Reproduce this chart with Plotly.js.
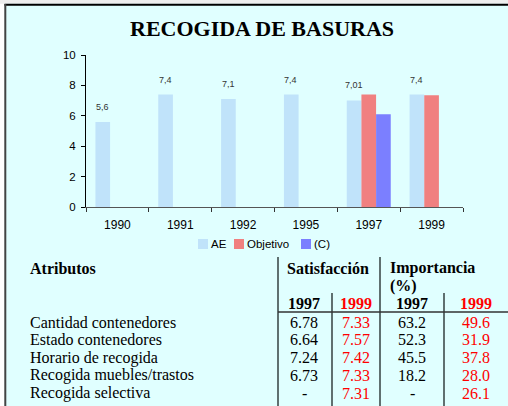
<!DOCTYPE html>
<html>
<head>
<meta charset="utf-8">
<script src="https://cdn.plot.ly/plotly-3.0.1.min.js"></script>
<style>
html,body{margin:0;padding:0;background:#fff;}
#chart{width:508px;height:406px;}
</style>
</head>
<body>
<div id="chart"></div>
<script>
// ---- data ----
const years = ['1990', '1991', '1992', '1995', '1997', '1999'];
const aeValues = [5.6, 7.4, 7.1, 7.4, 7.01, 7.4];
const objetivoValues = [null, null, null, null, 7.4, 7.35];
const cValues = [null, null, null, null, 6.1, null];
const seriesNames = ['AE', 'Objetivo', '(C)'];
const chartTitle = 'RECOGIDA DE BASURAS';

const attributes = ['Cantidad contenedores', 'Estado contenedores', 'Horario de recogida',
  'Recogida muebles/trastos', 'Recogida selectiva'];
const satisfaccion1997 = [6.78, 6.64, 7.24, 6.73, null];
const satisfaccion1999 = [7.33, 7.57, 7.42, 7.33, 7.31];
const importancia1997 = [63.2, 52.3, 45.5, 18.2, null];
const importancia1999 = [49.6, 31.9, 37.8, 28.0, 26.1];
const tableHeaders = ['Atributos', 'Satisfacción', 'Importancia', '(%)'];
const headerYears = ['1997', '1999', '1997', '1999'];

// ---- styling / layout helpers ----
const W = 508, H = 406;
const px = x => x / W;
const py = y => 1 - y / H;
const colors = ['#C0E3FA', '#F08080', '#7B7FFF'];
const serif = 'Liberation Serif, Times New Roman, serif';
const sans = 'Arial, Liberation Sans, sans-serif';
const red = '#FF0000';

const traces = [aeValues, objetivoValues, cValues].map((vals, i) => ({
  type: 'bar', x: years, y: vals, name: seriesNames[i],
  marker: {color: colors[i], line: {width: 0}}, hoverinfo: 'skip', showlegend: false
}));

const annotations = [];
const shapes = [];

// title
annotations.push({xref: 'paper', yref: 'paper', x: px(262), y: py(28), xanchor: 'center', yanchor: 'middle',
  text: '<b>' + chartTitle + '</b>', showarrow: false, font: {family: serif, size: 22, color: '#000'}});

// data labels above AE bars (x given as category serial number)
aeValues.forEach((v, i) => {
  annotations.push({xref: 'x', yref: 'y', x: i, y: v, xshift: -15, yshift: 15,
    xanchor: 'center', yanchor: 'middle', showarrow: false,
    text: String(v).replace('.', ','), font: {family: sans, size: 9, color: '#333'}});
});

// legend (manual)
const legendX = [198, 234, 301];
seriesNames.forEach((n, i) => {
  shapes.push({type: 'rect', xref: 'paper', yref: 'paper', x0: px(legendX[i]), x1: px(legendX[i] + 10),
    y0: py(239), y1: py(249), fillcolor: colors[i], line: {width: 0}});
  annotations.push({xref: 'paper', yref: 'paper', x: px(legendX[i] + 11), y: py(244), xanchor: 'left', yanchor: 'middle',
    showarrow: false, text: n, font: {family: sans, size: 11.5, color: '#000'}});
});

// frame
shapes.push({type: 'rect', xref: 'paper', yref: 'paper', x0: 0, x1: px(4.5), y0: 0, y1: 1, fillcolor: '#FFFFFF', line: {width: 0}, layer: 'below'});
shapes.push({type: 'rect', xref: 'paper', yref: 'paper', x0: 0, x1: 1, y0: py(3.7), y1: 1, fillcolor: '#EEEEEE', line: {width: 0}, layer: 'below'});
shapes.push({type: 'line', xref: 'paper', yref: 'paper', x0: px(4.5), x1: 1, y0: py(4.7), y1: py(4.7), line: {color: '#000', width: 2}});
shapes.push({type: 'line', xref: 'paper', yref: 'paper', x0: px(5.3), x1: px(5.3), y0: py(4), y1: 0, line: {color: '#444', width: 2}});

// table lines
const lineColor = '#5F7070';
[[278, 257], [380, 257], [332, 293], [444, 293]].forEach(([x, y0]) => {
  shapes.push({type: 'line', xref: 'paper', yref: 'paper', x0: px(x), x1: px(x), y0: py(y0), y1: 0, line: {color: lineColor, width: 2}});
});
shapes.push({type: 'line', xref: 'paper', yref: 'paper', x0: px(278), x1: 1, y0: py(312), y1: py(312), line: {color: '#333', width: 1.3}});

// table text
function txt(x, y, t, anchor, opts) {
  annotations.push(Object.assign({xref: 'paper', yref: 'paper', x: px(x), y: py(y), xanchor: anchor, yanchor: 'middle',
    showarrow: false, text: t, font: {family: serif, size: 16, color: '#000'}}, opts || {}));
}
txt(28, 268, '<b>' + tableHeaders[0] + '</b>', 'left');
txt(285, 268, '<b>' + tableHeaders[1] + '</b>', 'left');
txt(388, 268, '<b>' + tableHeaders[2] + '</b>', 'left');
txt(388, 286, '<b>' + tableHeaders[3] + '</b>', 'left');
const colCenters = [304, 356, 412, 476];
headerYears.forEach((yr, i) => {
  txt(colCenters[i], 303, '<b>' + yr + '</b>', 'center', {font: {family: serif, size: 16, color: i % 2 ? red : '#000'}});
});
const fmt = (v, d) => v === null ? '-' : v.toFixed(d);
attributes.forEach((a, r) => {
  const y = 322 + r * 17.8;
  txt(28, y, a, 'left');
  txt(colCenters[0], y, fmt(satisfaccion1997[r], 2), 'center');
  txt(colCenters[1], y, fmt(satisfaccion1999[r], 2), 'center', {font: {family: serif, size: 16, color: red}});
  txt(colCenters[2], y, fmt(importancia1997[r], 1), 'center');
  txt(colCenters[3], y, fmt(importancia1999[r], 1), 'center', {font: {family: serif, size: 16, color: red}});
});

const layout = {
  width: W, height: H,
  margin: {l: 0, r: 0, t: 0, b: 0, pad: 0},
  paper_bgcolor: '#E0FFFF', plot_bgcolor: 'rgba(0,0,0,0)',
  barmode: 'group', bargap: 0.3, bargroupgap: 0,
  showlegend: false,
  xaxis: {domain: [px(86), px(463)], type: 'category', range: [-0.5, years.length - 0.5], showgrid: false, zeroline: false,
    showline: true, linecolor: '#555', linewidth: 1, ticks: 'outside', ticklen: 4, tickcolor: '#333',
    tickson: 'boundaries', tickfont: {family: sans, size: 12, color: '#000'}, ticklabelstandoff: 7, fixedrange: true},
  yaxis: {domain: [py(207), py(55)], range: [0, 10], dtick: 2, showgrid: false, zeroline: false,
    showline: true, linecolor: '#000', linewidth: 1, ticks: 'outside', ticklen: 4, tickcolor: '#000',
    tickfont: {family: sans, size: 11.5, color: '#000'}, ticklabelstandoff: 3, fixedrange: true},
  annotations: annotations, shapes: shapes
};

Plotly.newPlot('chart', traces, layout, {displayModeBar: false, staticPlot: true});
</script>
</body>
</html>
